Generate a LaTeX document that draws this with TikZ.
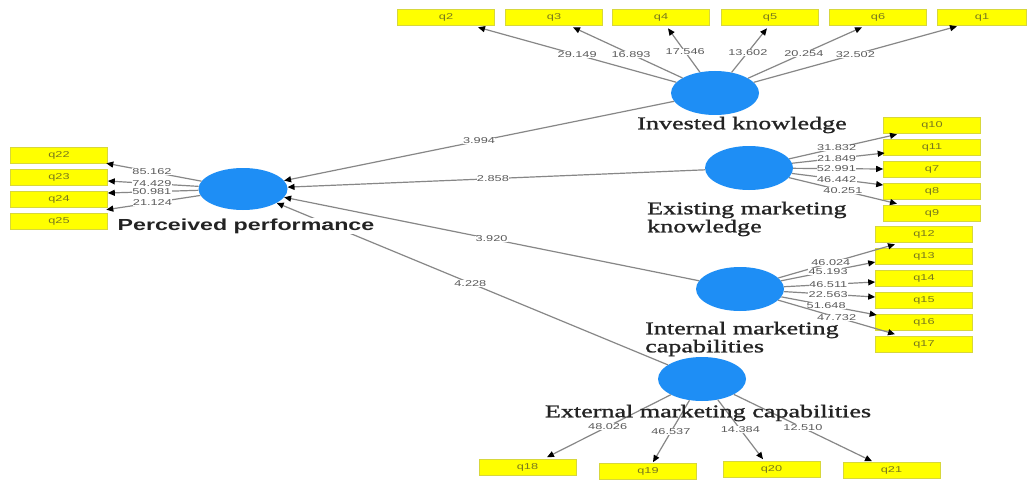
\documentclass[tikz,border=0pt]{standalone}
\usepackage{fontspec}
\setmainfont{Liberation Serif}
\usetikzlibrary{shapes.geometric,arrows.meta}
\newfontfamily\lvfont[FakeStretch=1.45,FakeBold=1.2]{Liberation Serif}
\newfontfamily\ppfont[FakeStretch=1.45]{Liberation Sans}
\newfontfamily\nfont[FakeStretch=1.5]{Liberation Sans}
\definecolor{lvblue}{RGB}{30,142,245}
\definecolor{boxyellow}{RGB}{255,255,0}
\definecolor{boxedge}{RGB}{215,215,60}
\definecolor{qtext}{RGB}{120,120,30}
\definecolor{linegray}{RGB}{135,135,135}
\definecolor{numgray}{RGB}{90,90,90}
\definecolor{labtext}{RGB}{35,35,35}
\begin{document}
\begin{tikzpicture}[x=1pt,y=-1pt,
  lv/.style={ellipse,fill=lvblue,draw=none,minimum width=88pt,minimum height=44pt,inner sep=0pt},
  ind/.style={rectangle,fill=boxyellow,draw=boxedge,line width=0.6pt,minimum width=97pt,minimum height=16pt,inner sep=0pt,font=\nfont\fontsize{8.5}{9}\selectfont,text=qtext},
  lvlab/.style={font=\lvfont\fontsize{18}{18}\selectfont,text=labtext,inner sep=0pt,align=left},
  pplab/.style={font=\ppfont\bfseries\fontsize{16}{16}\selectfont,text=labtext,fill=white,inner sep=1pt},
  con/.style={draw=linegray,line width=1.2pt,-{Triangle[length=7pt,width=6pt,color=black]}},
  coef/.style={fill=white,inner sep=0.4pt,font=\nfont\fontsize{8.5}{8.5}\selectfont,text=numgray,pos=0.5}
]
\fill[white] (0,0) rectangle (1027,484);
\useasboundingbox (0,0) rectangle (1027,484);

% latent variables
\node[lv] (ik) at (715,93) {};
\node[lv] (emk) at (749,168) {};
\node[lv] (imc) at (740,289) {};
\node[lv] (emc) at (702,379) {};
\node[lv,minimum width=89pt,minimum height=42pt] (pp) at (243,189) {};

% indicators
\node[ind] (q2) at (446,17) {q2};
\node[ind] (q3) at (554,17) {q3};
\node[ind] (q4) at (661,17) {q4};
\node[ind] (q5) at (770,17) {q5};
\node[ind] (q6) at (878,17) {q6};
\node[ind,minimum width=89pt] (q1) at (982,17) {q1};

\node[ind] (q10) at (932,125) {q10};
\node[ind] (q11) at (932,147) {q11};
\node[ind] (q7) at (932,169) {q7};
\node[ind] (q8) at (932,191) {q8};
\node[ind] (q9) at (932,213) {q9};

\node[ind] (q12) at (924,234.5) {q12};
\node[ind] (q13) at (924,256) {q13};
\node[ind] (q14) at (924,278) {q14};
\node[ind] (q15) at (924,300) {q15};
\node[ind] (q16) at (924,322) {q16};
\node[ind] (q17) at (924,344) {q17};

\node[ind] (q22) at (59,155) {q22};
\node[ind] (q23) at (59,177) {q23};
\node[ind] (q24) at (59,199) {q24};
\node[ind] (q25) at (59,221) {q25};

\node[ind] (q18) at (527.5,467.5) {q18};
\node[ind] (q19) at (648,471.5) {q19};
\node[ind] (q20) at (771.5,469.5) {q20};
\node[ind] (q21) at (891.5,470.5) {q21};

% Invested knowledge loadings
\draw[con] (ik) -- ([xshift=32pt,yshift=-2pt]q2.south) node[coef,pos=0.5]{29.149};
\draw[con] (ik) -- ([xshift=19pt,yshift=-2pt]q3.south) node[coef,pos=0.47]{16.893};
\draw[con] (ik) -- ([xshift=7pt,yshift=-3pt]q4.south) node[coef,pos=0.46]{17.546};
\draw[con] (ik) -- ([xshift=-3pt,yshift=-3pt]q5.south) node[coef,pos=0.46]{13.602};
\draw[con] (ik) -- ([xshift=-16pt,yshift=-2pt]q6.south) node[coef,pos=0.49]{20.254};
\draw[con] (ik) -- ([xshift=-25pt,yshift=-1pt]q1.south) node[coef,pos=0.5]{32.502};

% Existing marketing knowledge loadings
\draw[con] (emk) -- ([xshift=-35pt,yshift=-1pt]q10.south) node[coef,pos=0.44]{31.832};
\draw[con] (emk) -- ([xshift=1.5pt,yshift=-6pt]q11.west) node[coef,pos=0.48]{21.849};
\draw[con] (emk) -- (q7.west) node[coef,pos=0.48]{52.991};
\draw[con] (emk) -- ([yshift=6pt]q8.west) node[coef,pos=0.49]{46.442};
\draw[con] (emk) -- ([xshift=-35pt,yshift=1pt]q9.north) node[coef,pos=0.5]{40.251};

% Internal marketing capabilities loadings
\draw[con] (imc) -- ([xshift=-29pt,yshift=-1.5pt]q12.south) node[coef,pos=0.45]{46.024};
\draw[con] (imc) -- ([yshift=-6pt]q13.west) node[coef,pos=0.5]{45.193};
\draw[con] (imc) -- ([yshift=-4pt]q14.west) node[coef,pos=0.485]{46.511};
\draw[con] (imc) -- ([yshift=3pt]q15.west) node[coef,pos=0.485]{22.563};
\draw[con] (imc) -- ([xshift=1.5pt,yshift=7pt]q16.west) node[coef,pos=0.47]{51.648};
\draw[con] (imc) -- ([xshift=-29pt,yshift=1.5pt]q17.north) node[coef,pos=0.5]{47.732};

% External marketing capabilities loadings
\draw[con] (emc) -- ([xshift=19.5pt,yshift=2pt]q18.north) node[coef,pos=0.51]{48.026};
\draw[con] (emc) -- ([xshift=5pt,yshift=1pt]q19.north) node[coef,pos=0.51]{46.537};
\draw[con] (emc) -- ([xshift=-8.5pt,yshift=2pt]q20.north) node[coef,pos=0.5]{14.384};
\draw[con] (emc) -- ([xshift=-19.5pt,yshift=1pt]q21.north) node[coef,pos=0.5]{12.510};

% Perceived performance loadings
\draw[con] (pp) -- ([xshift=-1.5pt]q22.south east) node[coef,pos=0.52]{85.162};
\draw[con] (pp) -- ([yshift=-4pt]q23.east) node[coef,pos=0.515]{74.429};
\draw[con] (pp) -- ([yshift=6pt]q24.east) node[coef,pos=0.514]{50.981};
\draw[con] (pp) -- ([xshift=-1.5pt,yshift=3pt]q25.north east) node[coef,pos=0.51]{21.124};

% structural paths
\draw[con] (ik) -- (pp) node[coef,pos=0.5]{3.994};
\draw[con] (emk) -- (pp) node[coef,pos=0.508]{2.858};
\draw[con] (imc) -- (pp) node[coef,pos=0.5]{3.920};
\draw[con] (emc) -- (pp) node[coef,pos=0.505]{4.228};

% latent labels
\node[lvlab] (ikl) at (742,125) {Invested knowledge};
\node[lvlab,anchor=west] (emkl) at (647,219) {Existing marketing\\knowledge};
\node[lvlab,anchor=west] (imcl) at (645,339) {Internal marketing\\capabilities};
\node[lvlab] (emcl) at (708,413) {External marketing capabilities};
\node[pplab] (ppl) at (246,226) {Perceived performance};
\end{tikzpicture}
\end{document}
